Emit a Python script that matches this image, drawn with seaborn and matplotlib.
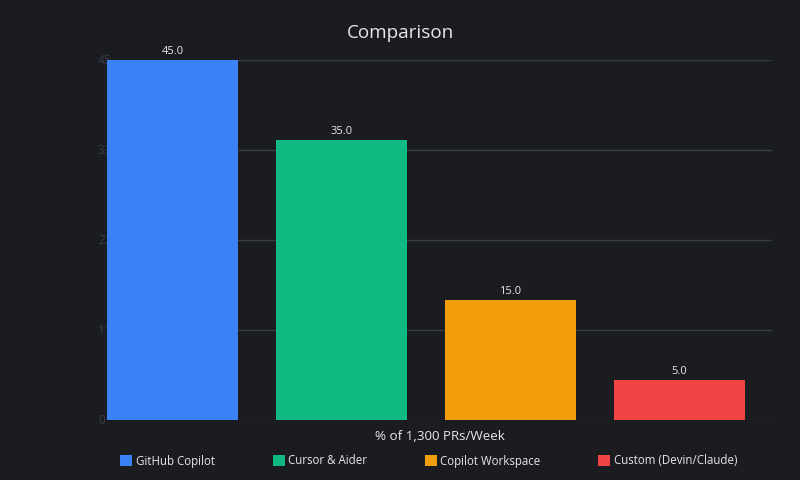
import matplotlib
matplotlib.use("Agg")
import matplotlib.pyplot as plt
from matplotlib.patches import Patch
import seaborn as sns
import pandas as pd

tools = ["GitHub Copilot", "Cursor & Aider", "Copilot Workspace", "Custom (Devin/Claude)"]
share = [45.0, 35.0, 15.0, 5.0]
colors = ["#3b82f6", "#10b981", "#f59e0b", "#ef4444"]
ytick_vals = [0, 11.25, 22.5, 33.75, 45]
ytick_txt = ["0", "11.25", "22.5", "33.75", "45"]
title = "Comparison"
xlabel = "% of 1,300 PRs/Week"

bg = "#1b1c20"
sns.set_theme(style="dark")
plt.rcParams["font.family"] = ["Open Sans", "DejaVu Sans"]

df = pd.DataFrame({"tool": tools, "share": share})

fig = plt.figure(figsize=(8, 4.8), dpi=100, facecolor=bg)
ax = fig.add_axes([107 / 800, 60 / 480, 665 / 800, 360 / 480])
ax.set_facecolor(bg)

sns.barplot(data=df, x="tool", y="share", hue="tool", palette=colors,
            width=0.775, dodge=False, legend=False, saturation=1, ax=ax,
            linewidth=0, zorder=2)

ax.set_xlim(-0.3876, 3.547)
ax.set_ylim(0, 45)
ax.set_yticks(ytick_vals)
ax.set_yticklabels([])
ax.set_xticks([])
ax.tick_params(length=0)
ax.yaxis.grid(True, color="#363b4a", linewidth=1)
ax.xaxis.grid(False)
ax.set_axisbelow(True)
for s in ax.spines.values():
    s.set_visible(False)

# y labels sit behind the bars
for v, t in zip(ytick_vals, ytick_txt):
    ax.text(-9 / 665, v, t, transform=ax.get_yaxis_transform(), ha="left", va="center",
            color="#363d4c", fontsize=8.5, zorder=1, clip_on=False)

for i, v in enumerate(share):
    ax.text(i, v + 0.35, f"{v:.1f}", ha="center", va="bottom", color="#e5e7eb",
            fontsize=8, zorder=3)

ax.set_xlabel(xlabel, color="#e5e7eb", fontsize=9.6, labelpad=7)
ax.set_ylabel("")
fig.text(400 / 800, 1 - 33.5 / 480, title, ha="center", va="center", color="#e5e7eb", fontsize=13.6)

handles = [Patch(facecolor=c, edgecolor="none", label=t) for c, t in zip(colors, tools)]
fig.legend(handles=handles, loc="center left", bbox_to_anchor=(110 / 800, 1 - 461 / 480),
           ncol=4, frameon=False, fontsize=8.3, labelcolor="#e5e7eb",
           handlelength=1.05, handleheight=1.05, handletextpad=0.3, columnspacing=5.0)

fig.savefig("out.png", dpi=100, facecolor=bg)
